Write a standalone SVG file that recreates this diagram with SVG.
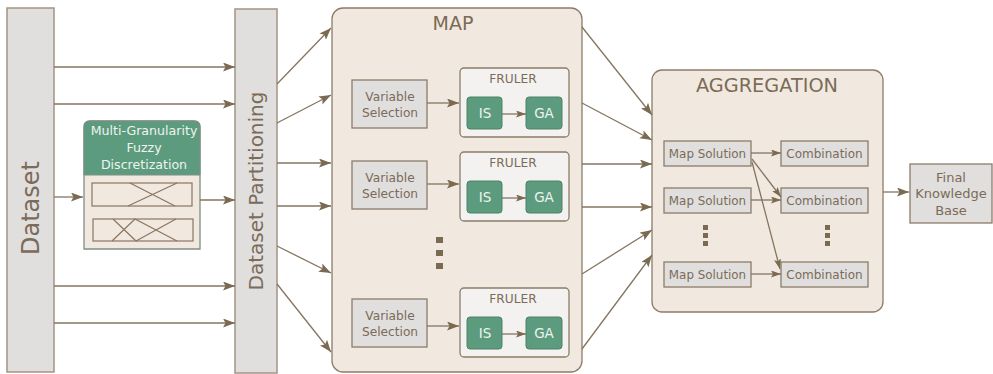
<svg xmlns="http://www.w3.org/2000/svg" width="993" height="374" viewBox="0 0 993 374">
<style>
text{font-family:"DejaVu Sans","Liberation Sans",sans-serif;fill:#7b6b58;text-anchor:middle}
.gray{fill:#e0dfde;stroke:#8c7c68;stroke-width:1.3}
.bar{fill:#e0dfde;stroke:#a39483;stroke-width:1.5}
.beige{fill:#f1e9df;stroke:#8c7c68;stroke-width:1.3}
.fruler{fill:#f3f2f0;stroke:#8c7c68;stroke-width:1.3}
.green{fill:#5c9b7d;stroke:#4f8368;stroke-width:1}
.ln{stroke:#857560;stroke-width:1.3;fill:none}
.big{marker-end:url(#ah)}
.sm{marker-end:url(#as)}
.mf{stroke:#8b7560;stroke-width:1.2;fill:none}
.dot{fill:#7a6a52}
.wt{fill:#eef4ef}
</style>
<defs>
<marker id="ah" markerUnits="userSpaceOnUse" markerWidth="14" markerHeight="10" refX="12" refY="4.5" orient="auto">
<path d="M0,0 L12,4.5 L0,9 L2.5,4.5 z" fill="#7a6a50"/>
</marker>
<marker id="as" markerUnits="userSpaceOnUse" markerWidth="12" markerHeight="9" refX="10" refY="3.5" orient="auto">
<path d="M0,0 L10,3.5 L0,7 L2,3.5 z" fill="#7a6a50"/>
</marker>
</defs>

<g id="dataset">
<rect class="bar" x="7" y="8" width="47" height="364"/>
<text transform="translate(39,208) rotate(-90)" font-size="24">Dataset</text>
</g>

<g id="mgfd">
<path d="M84,249 V127 Q84,121 90,121 H194 Q200,121 200,127 V249 Z" fill="#f1e9df" stroke="#7f8e86" stroke-width="1.3"/>
<path d="M84,175 V127 Q84,121 90,121 H194 Q200,121 200,127 V175 Z" fill="#5c9b7d" stroke="#7f8e86" stroke-width="1"/>
<text x="144" y="135" font-size="12.6" class="wt">Multi-Granularity</text>
<text x="144" y="152" font-size="12.6" class="wt">Fuzzy</text>
<text x="144" y="169" font-size="12.6" class="wt">Discretization</text>
<rect class="mf" x="92" y="183" width="100" height="23"/>
<path class="mf" d="M130,183 L175,206 M128,206 L177,183"/>
<rect class="mf" x="93" y="219" width="100" height="22"/>
<path class="mf" d="M113,219 L136,241 M112,241 L135,219 L177,241 M136,241 L176,219"/>
</g>

<g id="partitioning">
<rect class="bar" x="235" y="9" width="42" height="364"/>
<text transform="translate(263,191) rotate(-90)" font-size="20">Dataset Partitioning</text>
</g>

<g id="map">
<rect class="beige" x="332" y="8" width="250" height="364" rx="11"/>
<text x="453" y="30" font-size="19">MAP</text>
</g>

<g id="vs1"><rect class="gray" x="352" y="80" width="75" height="48"/><text x="390" y="101" font-size="12.2">Variable</text><text x="390" y="117" font-size="12.2">Selection</text></g>
<g id="vs2"><rect class="gray" x="352" y="161" width="75" height="48"/><text x="390" y="182" font-size="12.2">Variable</text><text x="390" y="198" font-size="12.2">Selection</text></g>
<g id="vs3"><rect class="gray" x="352" y="299" width="75" height="48"/><text x="390" y="320" font-size="12.2">Variable</text><text x="390" y="336" font-size="12.2">Selection</text></g>

<g id="fruler1"><rect class="fruler" x="460" y="68" width="109" height="69" rx="4"/><text x="513" y="83" font-size="12.2">FRULER</text></g>
<g id="fruler2"><rect class="fruler" x="460" y="152" width="109" height="69" rx="4"/><text x="513" y="167" font-size="12.2">FRULER</text></g>
<g id="fruler3"><rect class="fruler" x="460" y="288" width="109" height="69" rx="4"/><text x="513" y="303" font-size="12.2">FRULER</text></g>

<g id="is1"><rect class="green" x="467" y="97" width="35" height="32" rx="3"/><text class="wt" x="485" y="118" font-size="13.5">IS</text></g>
<g id="ga1"><rect class="green" x="526" y="97" width="36" height="32" rx="3"/><text class="wt" x="544" y="118" font-size="13.5">GA</text></g>
<g id="is2"><rect class="green" x="467" y="181" width="35" height="32" rx="3"/><text class="wt" x="485" y="202" font-size="13.5">IS</text></g>
<g id="ga2"><rect class="green" x="526" y="181" width="36" height="32" rx="3"/><text class="wt" x="544" y="202" font-size="13.5">GA</text></g>
<g id="is3"><rect class="green" x="467" y="317" width="35" height="32" rx="3"/><text class="wt" x="485" y="338" font-size="13.5">IS</text></g>
<g id="ga3"><rect class="green" x="526" y="317" width="36" height="32" rx="3"/><text class="wt" x="544" y="338" font-size="13.5">GA</text></g>

<g id="map-dots">
<rect class="dot" x="436" y="237" width="7" height="6"/>
<rect class="dot" x="436" y="250" width="7" height="6"/>
<rect class="dot" x="436" y="263" width="7" height="6"/>
</g>

<g id="aggregation">
<rect class="beige" x="652" y="70" width="231" height="242" rx="10"/>
<text x="767" y="92" font-size="19.3">AGGREGATION</text>
</g>

<g id="ms1"><rect class="gray" x="664" y="141" width="87" height="25"/><text x="707.5" y="158" font-size="11.9">Map Solution</text></g>
<g id="ms2"><rect class="gray" x="664" y="188" width="87" height="25"/><text x="707.5" y="205" font-size="11.9">Map Solution</text></g>
<g id="ms3"><rect class="gray" x="664" y="262" width="87" height="25"/><text x="707.5" y="279" font-size="11.9">Map Solution</text></g>
<g id="c1"><rect class="gray" x="781" y="141" width="87" height="25"/><text x="824.5" y="158" font-size="12">Combination</text></g>
<g id="c2"><rect class="gray" x="781" y="188" width="87" height="25"/><text x="824.5" y="205" font-size="12">Combination</text></g>
<g id="c3"><rect class="gray" x="781" y="262" width="87" height="25"/><text x="824.5" y="279" font-size="12">Combination</text></g>

<g id="agg-dots">
<rect class="dot" x="703" y="225" width="5" height="5"/>
<rect class="dot" x="703" y="233" width="5" height="5"/>
<rect class="dot" x="703" y="241" width="5" height="5"/>
<rect class="dot" x="825" y="225" width="5" height="5"/>
<rect class="dot" x="825" y="233" width="5" height="5"/>
<rect class="dot" x="825" y="241" width="5" height="5"/>
</g>

<g id="final">
<rect class="gray" x="910" y="164" width="82" height="59"/>
<text x="951" y="182" font-size="13">Final</text>
<text x="951" y="198" font-size="13">Knowledge</text>
<text x="951" y="215" font-size="13">Base</text>
</g>

<g id="connectors">
<path class="ln big" d="M54,67 H235"/>
<path class="ln big" d="M54,104 H235"/>
<path class="ln big" d="M54,286 H235"/>
<path class="ln big" d="M54,323 H235"/>
<path class="ln big" d="M54,197 H83"/>
<path class="ln big" d="M200,200 H235"/>
<path class="ln big" d="M277,84 L331,28"/>
<path class="ln big" d="M277,123 L331,95"/>
<path class="ln big" d="M277,163 H331"/>
<path class="ln big" d="M277,206 H331"/>
<path class="ln big" d="M277,246 L331,273"/>
<path class="ln big" d="M277,284 L331,352"/>
<path class="ln big" d="M427,103 H459"/>
<path class="ln big" d="M427,184 H459"/>
<path class="ln big" d="M427,326 H459"/>
<path class="ln sm" d="M502,114 H526"/>
<path class="ln sm" d="M502,198 H526"/>
<path class="ln sm" d="M502,334 H526"/>
<path class="ln big" d="M582,27 L652,115"/>
<path class="ln big" d="M582,103 L652,140"/>
<path class="ln big" d="M582,164 H652"/>
<path class="ln big" d="M582,207 H652"/>
<path class="ln big" d="M582,274 L652,230"/>
<path class="ln big" d="M582,349 L652,255"/>
<path class="ln sm" d="M751,153 H781"/>
<path class="ln sm" d="M752,159 L781,197"/>
<path class="ln sm" d="M752,162 L780,269"/>
<path class="ln sm" d="M751,200 H781"/>
<path class="ln sm" d="M751,274 H781"/>
<path class="ln big" d="M883,192 H909"/>
</g>
</svg>
